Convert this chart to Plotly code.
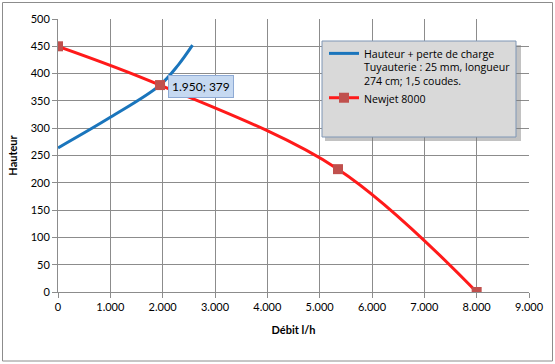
import plotly.graph_objects as go

# Data
blue_q = [0, 1000, 1950, 2300, 2570]
blue_h = [264, 320, 379, 416, 452]
red_q = [0, 1950, 5350, 8000]
red_h = [450, 379, 225, 0]
blue_name = "Hauteur + perte de charge<br>Tuyauterie : 25 mm, longueur<br>274 cm; 1,5 coudes."
red_name = "Newjet 8000"
x_ticks = [0, 1000, 2000, 3000, 4000, 5000, 6000, 7000, 8000, 9000]
y_ticks = [0, 50, 100, 150, 200, 250, 300, 350, 400, 450, 500]
label_q, label_h = 1950, 379

W, H = 555, 364
L, R, T, B = 58, 26, 19, 72
pw, ph = W - L - R, H - T - B

def px(xp):
    return (xp - L) / pw

def py(yp):
    return (H - B - yp) / ph

FONT = "Lato, Open Sans, sans-serif"

fig = go.Figure()
fig.add_trace(go.Scatter(x=blue_q, y=blue_h, mode="lines", name=blue_name,
                         line=dict(color="#1a75bc", width=3, shape="spline")))
fig.add_trace(go.Scatter(x=red_q, y=red_h, mode="lines+markers", name=red_name,
                         line=dict(color="#ff1a1a", width=3, shape="spline"),
                         marker=dict(symbol="square", size=10, color="#c0504d")))

grid = "#8c8c8c"
fig.update_layout(
    width=W, height=H,
    margin=dict(l=L, r=R, t=T, b=B, autoexpand=False),
    paper_bgcolor="white", plot_bgcolor="white",
    separators=",.",
    font=dict(family=FONT, size=11, color="#000000"),
    showlegend=True,
    legend=dict(x=px(324), y=py(40), xanchor="left", yanchor="top",
                bgcolor="rgba(0,0,0,0)", borderwidth=0, valign="top",
                font=dict(family="Open Sans, Lato, sans-serif", size=10.6),
                tracegroupgap=0, itemwidth=30),
    xaxis=dict(range=[0, 9000], tickvals=x_ticks, tickformat=",d",
               showgrid=True, gridcolor=grid, gridwidth=1, automargin=False,
               showline=True, linecolor=grid, ticks="outside", ticklen=5,
               tickcolor=grid, zeroline=False,
               title=dict(text="<b>Débit l/h</b>", standoff=14,
                          font=dict(family=FONT, size=11))),
    yaxis=dict(range=[0, 500], tickvals=y_ticks, automargin=False,
               showgrid=True, gridcolor=grid, gridwidth=1,
               showline=True, linecolor=grid, ticks="outside", ticklen=5,
               tickcolor=grid, zeroline=False,
               title=dict(text="<b>Hauteur</b>", standoff=10,
                          font=dict(family=FONT, size=11))),
)

# outer chart border
fig.add_shape(type="rect", xref="paper", yref="paper",
              x0=px(2.5), x1=px(552.5), y0=py(361), y1=py(2.5),
              line=dict(color="#8c8c8c", width=1), fillcolor="rgba(0,0,0,0)",
              layer="below")
# legend box shadow and box
fig.add_shape(type="rect", xref="paper", yref="paper",
              x0=px(325), x1=px(521), y0=py(141), y1=py(45),
              line=dict(width=0), fillcolor="rgba(120,120,120,0.45)")
fig.add_shape(type="rect", xref="paper", yref="paper",
              x0=px(322), x1=px(516), y0=py(137), y1=py(41),
              line=dict(color="#7f96b5", width=1), fillcolor="#d9d9d9")

fig.add_annotation(x=label_q, y=label_h, xref="x", yref="y",
                   text=f"{label_q:,}".replace(",", ".") + f"; {label_h}",
                   showarrow=False, xanchor="left", yanchor="middle",
                   xshift=8, yshift=-1,
                   bgcolor="#c6d9f1", bordercolor="#8eaad4", borderwidth=1,
                   borderpad=3, font=dict(family=FONT, size=12, color="#000000"))

fig.write_html("out.html", config={"displayModeBar": False},
               post_script="document.body.style.margin='0';document.body.style.overflow='hidden';")
